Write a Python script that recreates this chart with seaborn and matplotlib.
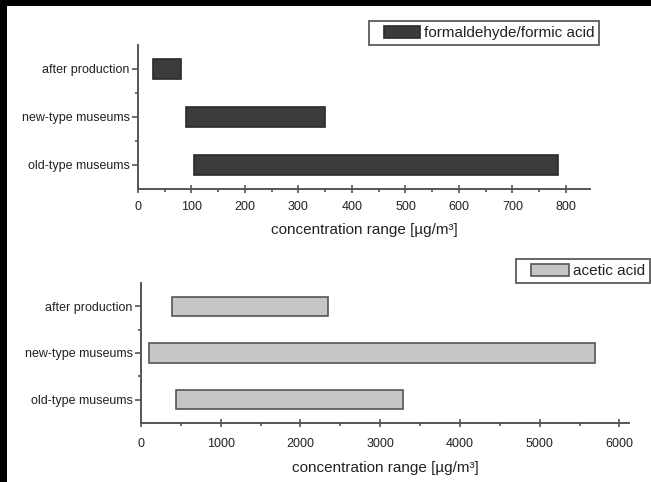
import matplotlib
matplotlib.use("Agg")
import matplotlib.pyplot as plt
from matplotlib.patches import Rectangle, Patch
from matplotlib.legend_handler import HandlerPatch
import seaborn as sns
import pandas as pd

categories = ["after production", "new-type museums", "old-type museums"]
formal_start = [28, 89, 105]
formal_end = [81, 350, 785]
acetic_start = [390, 100, 440]
acetic_end = [2350, 5690, 3280]
top_ticks = [0, 100, 200, 300, 400, 500, 600, 700, 800]
bottom_ticks = [0, 1000, 2000, 3000, 4000, 5000, 6000]
xlabel = "concentration range [µg/m³]"

sns.set_theme(style="ticks")
plt.rcParams['font.family'] = ['Liberation Sans', 'DejaVu Sans']

W, H = 651, 482
fig = plt.figure(figsize=(W / 100, H / 100), dpi=100)
fig.patch.set_facecolor("black")
fig.add_artist(Rectangle((7 / W, 0), 1, 1 - 6 / H, transform=fig.transFigure,
                         facecolor="white", edgecolor="none", zorder=-10))

axcol = "#555555"
txtcol = "#222222"
GAP = 7.5  # extra left padding in legend, points


def offset_patch(legend, orig_handle, xdescent, ydescent, width, height, fontsize):
    return Rectangle((-xdescent + GAP, -ydescent), width - GAP, height)


def panel(rect, starts, ends, face, edge, bh, xlim, ticks, minor_step, leg_label,
          leg_anchor, xpad, lpad, hlen):
    ax = fig.add_axes(rect)
    ax.set_facecolor("none")
    widths = [e - s for s, e in zip(starts, ends)]
    df = pd.DataFrame({"cat": categories, "w": widths})
    sns.barplot(data=df, x="w", y="cat", orient="h", color=face, width=bh,
                edgecolor=edge, linewidth=1.2, saturation=1, ax=ax)
    for p, s in zip(ax.patches, starts):
        p.set_x(s)
    ax.set_xlim(*xlim)
    ax.set_ylim(2.5, -0.5)
    ax.set_xticks(ticks)
    ax.set_xticks([t + minor_step for t in ticks[:-1]], minor=True)
    ax.set_yticks([0.5, 1.5], minor=True)
    ax.set_ylabel("")
    ax.set_xlabel(xlabel, fontsize=11, color=txtcol, labelpad=lpad)
    sns.despine(ax=ax)
    for sp in ("left", "bottom"):
        ax.spines[sp].set_color(axcol)
        ax.spines[sp].set_linewidth(1.4)
    ax.tick_params(axis="both", which="major", length=4.5, width=1.2, color=axcol,
                   labelsize=9, labelcolor=txtcol, pad=1.5)
    ax.tick_params(axis="both", which="minor", length=2.5, width=1.2, color=axcol)
    ax.tick_params(axis="x", which="major", direction="inout", length=6, pad=xpad)
    handle = Patch(facecolor=face, edgecolor=edge, linewidth=1.2)
    fig.legend([handle], [leg_label], loc="upper right", bbox_to_anchor=leg_anchor,
               bbox_transform=fig.transFigure, frameon=True, fancybox=False,
               edgecolor="#666666", fontsize=11, handlelength=hlen, handleheight=0.9,
               borderpad=0.3, handletextpad=0.25, borderaxespad=0, labelcolor=txtcol,
               framealpha=1,
               handler_map={Patch: HandlerPatch(patch_func=offset_patch)}
               ).get_frame().set_linewidth(1.4)
    return ax


panel([138 / W, 1 - 189 / H, (590 - 138) / W, (189 - 45) / H],
      formal_start, formal_end, "#3b3b3b", "#2a2a2a", 0.43, (0, 845),
      top_ticks, 50, "formaldehyde/formic acid", (599 / W, 1 - 21 / H), 6, 7, 2.35 + GAP / 11)
panel([141 / W, 1 - 423 / H, (629 - 141) / W, (423 - 283) / H],
      acetic_start, acetic_end, "#c6c6c6", "#555555", 0.41, (0, 6120),
      bottom_ticks, 500, "acetic acid", (650 / W, 1 - 259 / H), 8, 8, 2.5 + GAP / 11)

fig.savefig("out.png", dpi=100, facecolor=fig.get_facecolor())
